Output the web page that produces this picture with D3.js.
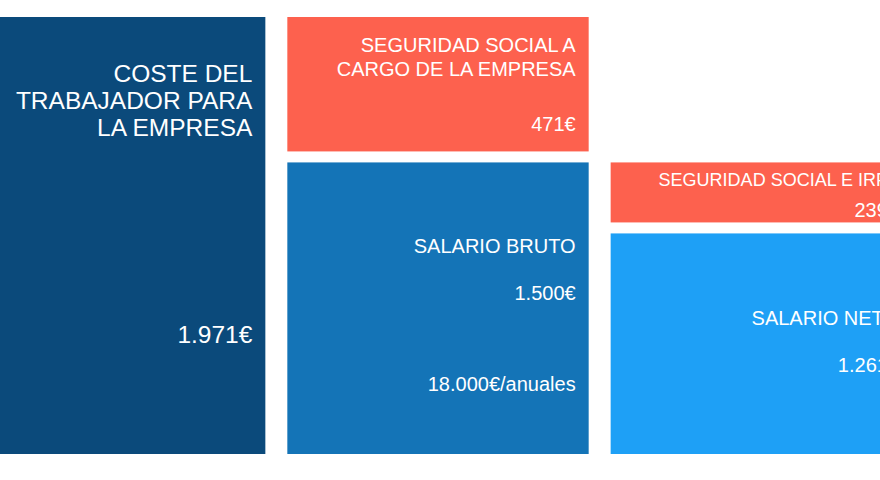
<!DOCTYPE html>
<html lang="es">
<head>
<meta charset="utf-8">
<script src="https://cdn.jsdelivr.net/npm/d3@7"></script>
<style>
    body { margin: 0; background: #ffffff; }
    svg { display: block; }
    text { font-family: "Liberation Sans", Arial, Helvetica, sans-serif; fill: #ffffff; }
</style>
</head>
<body>
<div class="visHolder"></div>
<script>
const width = 880;
const height = 480;

// datos
const columnas = ["coste", "bruto", "neto"];
const columnaDe = ["coste", "bruto", "bruto", "neto", "neto"];
const titulos = [
    ["COSTE DEL", "TRABAJADOR PARA", "LA EMPRESA"],
    ["SEGURIDAD SOCIAL A", "CARGO DE LA EMPRESA"],
    ["SALARIO BRUTO"],
    ["SEGURIDAD SOCIAL E IRPF"],
    ["SALARIO NETO"]
];
const importes = [1971, 471, 1500, 239, 1261];
const anual = [null, null, 18000, null, null];
const tipos = ["total", "cargo", "bruto", "cargo", "neto"];

// estilo
const colores = {
    total: "#0b4a7b",
    cargo: "#fd614e",
    bruto: "#1474b7",
    neto: "#1ea0f6"
};
const rotulos = [
    { size: 24.5, lh: 27, titulo: ["top", 65], cifra: ["top", 326] },
    { size: 20, lh: 24, titulo: ["top", 35], cifra: ["bottom", -20] },
    { size: 20, lh: 24, titulo: ["bottom", -201], cifra: ["bottom", -154], nota: ["bottom", -63] },
    { size: 18, lh: 22, titulo: ["top", 24], cifra: ["bottom", -5] },
    { size: 20, lh: 24, titulo: ["bottom", -129], cifra: ["bottom", -82] }
];
const gap = 11;
const padRight = 13;

const es = d3.formatLocale({
    decimal: ",",
    thousands: ".",
    grouping: [3],
    currency: ["", "€"]
});
const euros = (v) => es.format(",")(v) + "€";

// apilado: cada columna se apila de abajo arriba (los segmentos van de arriba abajo)
const segmentos = importes.map((v, i) => ({
    i: i,
    col: columnaDe[i],
    valor: v,
    tipo: tipos[i]
}));
columnas.forEach((c) => {
    let acum = 0;
    segmentos
        .filter((s) => s.col === c)
        .reverse()
        .forEach((s) => {
            s.y0 = acum;
            s.y1 = acum + s.valor;
            acum = s.y1;
        });
});
const maxCol = d3.max(segmentos, (s) => s.y1);
segmentos.forEach((s) => {
    s.arriba = s.y1 < maxCol;
    s.abajo = s.y0 > 0;
});

const xScale = d3
    .scaleBand()
    .domain(columnas)
    .range([-36, 912])
    .paddingInner(0.068);

const yScale = d3
    .scaleLinear()
    .domain([500, maxCol])
    .range([454, 17]);

const svg = d3
    .select(".visHolder")
    .append("svg")
    .attr("width", width)
    .attr("height", height);

svg.append("rect")
    .attr("width", width)
    .attr("height", height)
    .attr("fill", "#ffffff");

segmentos.forEach((s) => {
    s.x = xScale(s.col);
    s.w = xScale.bandwidth();
    s.top = yScale(s.y1) + (s.arriba ? gap / 2 : 0);
    s.bottom = (s.y0 > 0 ? yScale(s.y0) - gap / 2 : yScale(0 + 500));
    s.h = s.bottom - s.top;
});

svg.selectAll("rect.bloque")
    .data(segmentos)
    .enter()
    .append("rect")
    .attr("class", "bloque")
    .attr("x", (d) => d.x)
    .attr("y", (d) => d.top)
    .attr("width", (d) => d.w)
    .attr("height", (d) => d.h)
    .attr("fill", (d) => colores[d.tipo]);

const posY = (d, ref) => (ref[0] === "top" ? d.top : d.bottom) + ref[1];

const grupos = svg
    .selectAll("g.rotulo")
    .data(segmentos)
    .enter()
    .append("g")
    .attr("class", "rotulo")
    .attr("text-anchor", "end");

grupos.each(function (d) {
    const r = rotulos[d.i];
    const g = d3.select(this);
    const xr = d.x + d.w - padRight;
    const t = g
        .append("text")
        .attr("x", xr)
        .attr("y", posY(d, r.titulo))
        .attr("font-size", r.size);
    titulos[d.i].forEach((linea, k) => {
        t.append("tspan")
            .attr("x", xr)
            .attr("dy", k === 0 ? 0 : r.lh)
            .text(linea);
    });
    g.append("text")
        .attr("x", xr)
        .attr("y", posY(d, r.cifra))
        .attr("font-size", d.i === 0 ? 24.5 : 20)
        .text(euros(d.valor));
    if (anual[d.i] !== null) {
        g.append("text")
            .attr("x", xr)
            .attr("y", posY(d, r.nota))
            .attr("font-size", 20)
            .text(euros(anual[d.i]) + "/anuales");
    }
});
</script>
</body>
</html>
